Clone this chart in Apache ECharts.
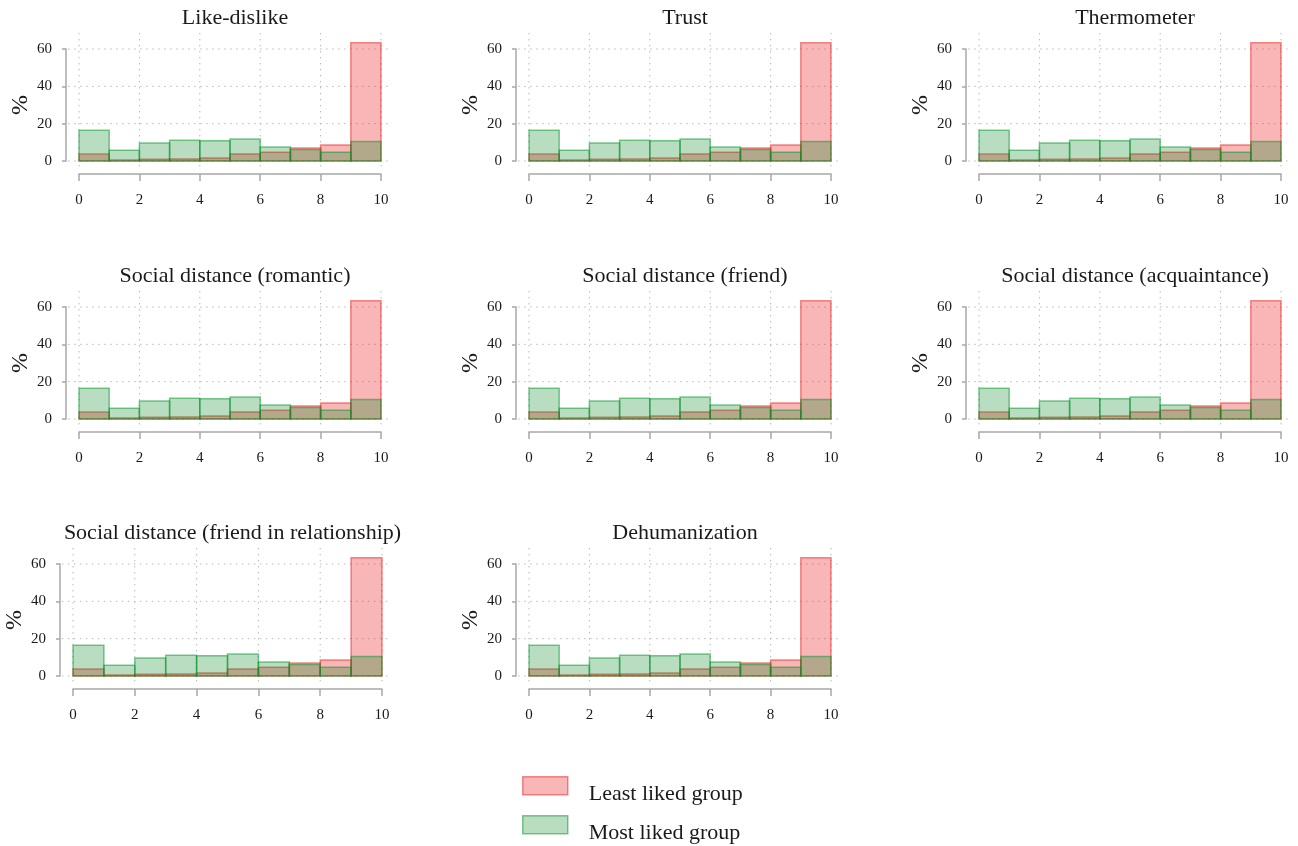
<!DOCTYPE html>
<html>
<head>
<meta charset="utf-8">
<script src="https://cdn.jsdelivr.net/npm/echarts@6/dist/echarts.min.js"></script>
<style>
  html, body { margin: 0; padding: 0; background: #fff; }
  #chart { width: 1298px; height: 846px; }
</style>
</head>
<body>
<div id="chart"></div>
<script>
const titles = [
  'Like-dislike', 'Trust', 'Thermometer',
  'Social distance (romantic)', 'Social distance (friend)', 'Social distance (acquaintance)',
  'Social distance (friend in relationship)', 'Dehumanization'
]
const binStarts = [0, 1, 2, 3, 4, 5, 6, 7, 8, 9]
const leastLiked = [3.7, 0.5, 0.9, 1.1, 1.6, 3.8, 4.7, 7.0, 8.6, 63.3]
const mostLiked = [16.5, 5.8, 9.7, 11.1, 10.9, 11.8, 7.5, 6.2, 4.7, 10.4]
const xTicks = [0, 2, 4, 6, 8, 10]
const yTicks = [0, 20, 40, 60]

const FONT = "'Liberation Serif', 'DejaVu Serif', serif"
const TEXT = '#1a1a1a'
const AXIS = '#a8a8a8'
const RED = { fill: 'rgba(235,46,46,0.35)', line: 'rgba(235,46,46,0.55)' }
const GREEN = { fill: 'rgba(0,133,30,0.28)', line: 'rgba(0,150,40,0.5)' }

const colLeft = [79, 529, 979]
const rowTop = [49, 307, 564]

const chart = echarts.init(document.getElementById('chart'))

const title = []
const grid = []
const xAxis = []
const yAxis = []
const series = []

const histItem = (params, api) => {
  const p0 = api.coord([api.value(0), api.value(2)])
  const p1 = api.coord([api.value(1), 0])
  return {
    type: 'rect',
    shape: { x: p0[0], y: p0[1], width: p1[0] - p0[0], height: p1[1] - p0[1] },
    style: api.style()
  }
}

const gridDots = { stroke: '#b8b8b8', lineWidth: 1, lineDash: [1.5, 4.5] }

titles.forEach((name, i) => {
  const row = Math.floor(i / 3)
  const col = i % 3
  let left = colLeft[col]
  let width = 302
  if (i === 6) { left = 73; width = 309 }   // longer title, wider panel
  const top = rowTop[row]

  grid.push({ left, top, width, height: 112 })

  title.push({
    text: name,
    left: left + width / 2,
    top: top - 47,
    textAlign: 'center',
    textStyle: { fontFamily: FONT, fontSize: 22, fontWeight: 'normal', color: TEXT }
  })

  xAxis.push({
    gridIndex: i,
    type: 'value',
    min: 0,
    max: 10,
    interval: 2,
    offset: 13,
    axisLine: { show: true, onZero: false, lineStyle: { color: AXIS, width: 1.5 } },
    axisTick: { show: true, length: 7, lineStyle: { color: AXIS, width: 1.5 } },
    axisLabel: { margin: 19, fontFamily: FONT, fontSize: 15, color: TEXT },
    splitLine: { show: false }
  })

  yAxis.push({
    gridIndex: i,
    type: 'value',
    min: 0,
    max: 60,
    interval: 20,
    offset: 13,
    name: '%',
    nameLocation: 'middle',
    nameRotate: 90,
    nameGap: 26,
    nameTextStyle: { fontFamily: FONT, fontSize: 24, color: TEXT },
    axisLine: { show: true, onZero: false, lineStyle: { color: AXIS, width: 1.5 } },
    axisTick: { show: true, length: 4, lineStyle: { color: AXIS, width: 1.5 } },
    axisLabel: { margin: 14, fontFamily: FONT, fontSize: 15, color: TEXT },
    splitLine: { show: false }
  })

  // dotted grid, running a bit past the axes like the original
  series.push({
    type: 'custom',
    xAxisIndex: i,
    yAxisIndex: i,
    silent: true,
    clip: false,
    z: 1,
    data: yTicks.map((v) => [0, v]),
    renderItem: (params, api) => {
      const a = api.coord([-0.36, api.value(1)])
      const b = api.coord([10.3, api.value(1)])
      return { type: 'line', shape: { x1: a[0], y1: a[1], x2: b[0], y2: b[1] }, style: gridDots }
    }
  })
  series.push({
    type: 'custom',
    xAxisIndex: i,
    yAxisIndex: i,
    silent: true,
    clip: false,
    z: 1,
    data: xTicks.map((v) => [v, 0]),
    renderItem: (params, api) => {
      const a = api.coord([api.value(0), 68.6])
      const b = api.coord([api.value(0), -3.2])
      return { type: 'line', shape: { x1: a[0], y1: a[1], x2: b[0], y2: b[1] }, style: gridDots }
    }
  })

  series.push({
    name: 'Least liked group',
    type: 'custom',
    xAxisIndex: i,
    yAxisIndex: i,
    clip: false,
    z: 2,
    itemStyle: { color: RED.fill, borderColor: RED.line, borderWidth: 1.5 },
    data: binStarts.map((s, k) => [s, s + 1, leastLiked[k]]),
    renderItem: histItem
  })
  series.push({
    name: 'Most liked group',
    type: 'custom',
    xAxisIndex: i,
    yAxisIndex: i,
    clip: false,
    z: 3,
    itemStyle: { color: GREEN.fill, borderColor: GREEN.line, borderWidth: 1.5 },
    data: binStarts.map((s, k) => [s, s + 1, mostLiked[k]]),
    renderItem: histItem
  })
})

// text sits a little lower than the swatch in the original
const legendBase = {
  left: 522,
  padding: 0,
  itemWidth: 45,
  itemHeight: 18,
  selectedMode: false,
  formatter: '{t|{name}}',
  textStyle: {
    rich: { t: { fontFamily: FONT, fontSize: 22, color: TEXT, padding: [16, 0, 0, 16] } }
  }
}

chart.setOption({
  animation: false,
  backgroundColor: '#fff',
  title,
  grid,
  xAxis,
  yAxis,
  legend: [
    Object.assign({}, legendBase, {
      top: 776,
      data: [{ name: 'Least liked group', icon: 'rect', itemStyle: { color: RED.fill, borderColor: RED.line, borderWidth: 1.5 } }]
    }),
    Object.assign({}, legendBase, {
      top: 815,
      data: [{ name: 'Most liked group', icon: 'rect', itemStyle: { color: GREEN.fill, borderColor: GREEN.line, borderWidth: 1.5 } }]
    })
  ],
  series
})
</script>
</body>
</html>
